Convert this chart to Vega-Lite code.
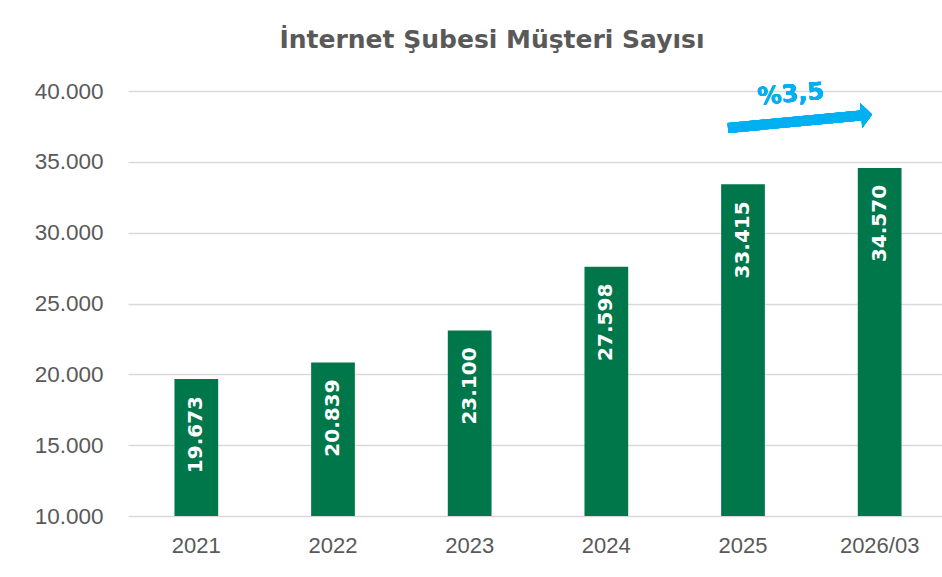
{
  "$schema": "https://vega.github.io/schema/vega-lite/v6.json",
  "autosize": {"type": "none"},
  "padding": {"left": 128, "top": 91, "right": 0, "bottom": 61},
  "width": 814,
  "height": 425,
  "background": "white",
  "title": {
    "text": "İnternet Şubesi Müşteri Sayısı",
    "font": "DejaVu Sans",
    "fontSize": 25,
    "fontWeight": "bold",
    "color": "#595959",
    "anchor": "middle",
    "dx": -43,
    "offset": 7,
    "baseline": "alphabetic"
  },
  "data": {
    "values": [
      {"year": "2021", "value": 19673},
      {"year": "2022", "value": 20839},
      {"year": "2023", "value": 23100},
      {"year": "2024", "value": 27598},
      {"year": "2025", "value": 33415},
      {"year": "2026/03", "value": 34570}
    ]
  },
  "layer": [
    {
      "mark": {"type": "bar", "color": "#00774B"},
      "encoding": {
        "x": {
          "field": "year",
          "type": "ordinal",
          "sort": null,
          "scale": {"range": [0, 820], "paddingInner": 0.68, "paddingOuter": 0.34},
          "axis": {
            "title": null,
            "domain": false,
            "ticks": false,
            "labelAngle": 0,
            "labelPadding": 19,
            "labelFont": "Liberation Sans",
            "labelFontSize": 22,
            "labelColor": "#595959"
          }
        },
        "y": {
          "field": "value",
          "type": "quantitative",
          "scale": {"domain": [10000, 40000], "zero": false, "nice": false},
          "axis": {
            "title": null,
            "values": [10000, 15000, 20000, 25000, 30000, 35000, 40000],
            "format": ",.0f",
            "domain": false,
            "ticks": false,
            "grid": true,
            "gridColor": "#d9d9d9",
            "gridWidth": 1.5,
            "labelPadding": 25,
            "labelFont": "Liberation Sans",
            "labelFontSize": 22.5,
            "labelColor": "#595959"
          }
        },
        "y2": {"datum": 10000}
      }
    },
    {
      "mark": {
        "type": "text",
        "angle": 270,
        "align": "right",
        "baseline": "middle",
        "dx": -17,
        "font": "DejaVu Sans",
        "fontSize": 20,
        "fontWeight": "bold",
        "color": "white"
      },
      "encoding": {
        "x": {"field": "year", "type": "ordinal", "sort": null},
        "y": {"field": "value", "type": "quantitative"},
        "text": {"field": "value", "type": "quantitative", "format": ",.0f"}
      }
    },
    {
      "mark": {"type": "rule", "color": "#00B0F0", "strokeWidth": 10, "strokeCap": "butt", "xOffset": -15, "x2Offset": -19},
      "encoding": {
        "x": {"datum": "2025", "type": "ordinal"},
        "x2": {"datum": "2026/03"},
        "y": {"datum": 37388, "type": "quantitative"},
        "y2": {"datum": 38271}
      }
    },
    {
      "mark": {
        "type": "point",
        "filled": true,
        "opacity": 1,
        "color": "#00B0F0",
        "shape": "M-0.44,-1L0.44,0L-0.44,1Z",
        "size": 625,
        "angle": 355,
        "xOffset": -13
      },
      "encoding": {
        "x": {"datum": "2026/03", "type": "ordinal"},
        "y": {"datum": 38306, "type": "quantitative"}
      }
    },
    {
      "mark": {
        "type": "text",
        "text": "%3,5",
        "font": "DejaVu Sans",
        "fontSize": 24,
        "fontWeight": "bold",
        "color": "#00B0F0",
        "angle": 355,
        "align": "center",
        "baseline": "middle",
        "dx": 48
      },
      "encoding": {
        "x": {"datum": "2025", "type": "ordinal"},
        "y": {"datum": 39435, "type": "quantitative"}
      }
    }
  ],
  "config": {
    "view": {"stroke": null},
    "locale": {
      "number": {"decimal": ",", "thousands": ".", "grouping": [3], "currency": ["", " TL"]}
    }
  }
}
